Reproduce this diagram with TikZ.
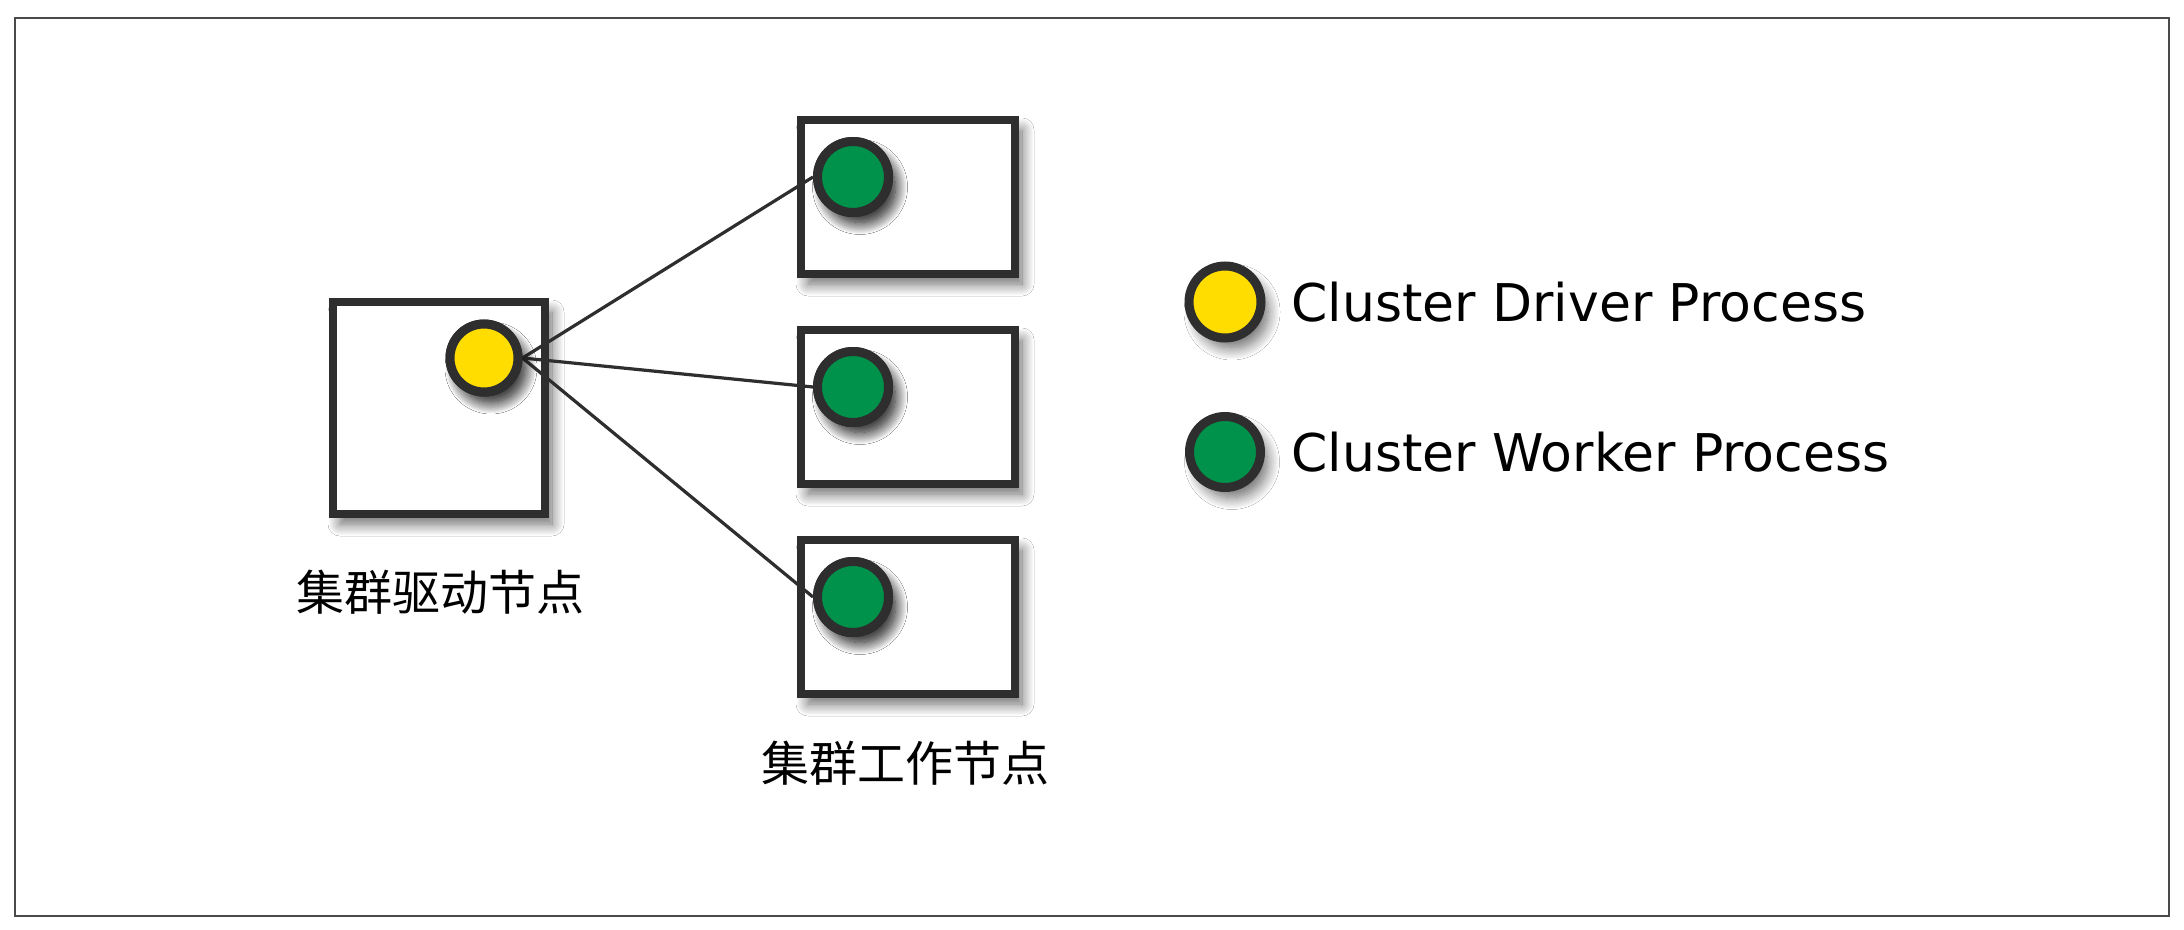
\documentclass[tikz,border=0pt]{standalone}
\usepackage{fontspec}
\usetikzlibrary{shadows.blur}
\newfontfamily\cjkfont{Noto Sans CJK SC}
\newfontfamily\legendfont{DejaVu Sans}
\definecolor{ink}{HTML}{2E2E2E}
\definecolor{drvyellow}{HTML}{FFDD00}
\definecolor{wrkgreen}{HTML}{00914A}
\definecolor{framegray}{HTML}{4A4A4A}
\begin{document}
\begin{tikzpicture}[x=0.5pt,y=-0.5pt,
  softshadow/.style={blur shadow={shadow xshift=3.5pt, shadow yshift=-5pt, shadow blur radius=6pt, shadow blur steps=16, shadow opacity=60}},
  machine/.style={draw=ink, line width=4.2pt, fill=white, inner sep=0pt, softshadow},
  drivermachine/.style={machine, minimum width=106pt, minimum height=106pt},
  workermachine/.style={machine, minimum width=107pt, minimum height=77pt},
  procdot/.style={circle, draw=ink, line width=4.5pt, inner sep=0pt, softshadow},
  driverdot/.style={procdot, fill=drvyellow, minimum size=34pt},
  workerdot/.style={procdot, fill=wrkgreen, minimum size=35.5pt},
  link/.style={draw=ink, line width=1.6pt},
  cjklabel/.style={font=\cjkfont\fontsize{24pt}{28pt}\selectfont, text=black, inner sep=0pt},
  legendtext/.style={font=\legendfont\fontsize{26pt}{30pt}\selectfont, text=black, inner sep=0pt, anchor=west}]
\useasboundingbox (0,0) rectangle (2184,930);
\fill[white] (0,0) rectangle (2184,930);
\draw[framegray, line width=1pt] (15,18) rectangle (2169,916);
% machines
\node[drivermachine] (drvbox) at (439,408) {};
\node[workermachine] (wbox1) at (908,197) {};
\node[workermachine] (wbox2) at (908,407) {};
\node[workermachine] (wbox3) at (908,617) {};
% process dots
\path (484,358) coordinate (drvpos);
\node[driverdot] (drv) at (drvpos) {};
\node[workerdot] (w1) at (853,177) {};
\node[workerdot] (w2) at (853,387) {};
\node[workerdot] (w3) at (853,597) {};
% connectors
\draw[link] (drv.east) -- (w1.west);
\draw[link] (drv.east) -- (w2.west);
\draw[link] (drv.east) -- (w3.west);
% redraw dots above connectors
\node[driverdot] at (drvpos) {};
\node[workerdot] at (w1) {};
\node[workerdot] at (w2) {};
\node[workerdot] at (w3) {};
% labels
\node[cjklabel] (drvlabel) at (440,592) {集群驱动节点};
\node[cjklabel] (wlabel) at (905,763) {集群工作节点};
% legend
\node[driverdot, minimum size=36pt] (legdrv) at (1225,302) {};
\node[legendtext] (legdrvtext) at (1291,302) {Cluster Driver Process};
\node[workerdot] (legwrk) at (1225,452) {};
\node[legendtext] (legwrktext) at (1291,452) {Cluster Worker Process};
\end{tikzpicture}
\end{document}
